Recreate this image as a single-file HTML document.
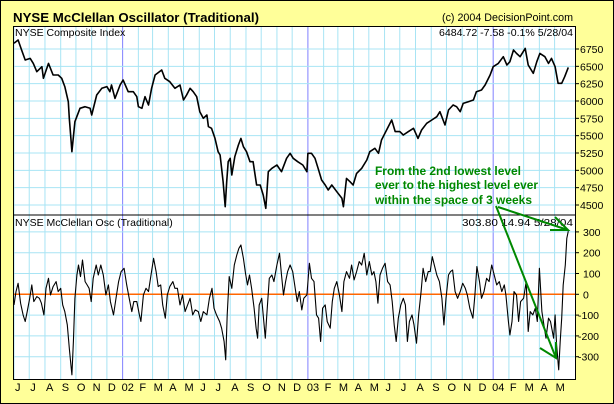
<!DOCTYPE html>
<html><head><meta charset="utf-8"><style>
html,body{margin:0;padding:0;background:#FFFF99;}
svg{display:block;font-family:"Liberation Sans",Arial,sans-serif;}
</style></head><body>
<svg id="chart" width="614" height="404" viewBox="0 0 614 404">
<rect x="0.5" y="0.5" width="613" height="403" fill="#FFFF99" stroke="#000"/>
<text x="13" y="22" font-size="13" font-weight="bold" textLength="246" lengthAdjust="spacingAndGlyphs">NYSE McClellan Oscillator (Traditional)</text>
<text x="573" y="21" font-size="11" text-anchor="end" textLength="131" lengthAdjust="spacingAndGlyphs">(c) 2004 DecisionPoint.com</text>
<rect x="13.5" y="26.5" width="562" height="353" fill="#fff" stroke="none"/>
<g id="grid"></g>
<g id="series"></g>
<rect x="13.5" y="26.5" width="562" height="353" fill="none" stroke="#000"/>
<line x1="13.5" x2="575.5" y1="215" y2="215" stroke="#000"/>
<text x="15" y="36" font-size="10.5">NYSE Composite Index</text>
<text x="573" y="36" font-size="10.5" text-anchor="end" textLength="134" lengthAdjust="spacingAndGlyphs">6484.72  -7.58  -0.1%  5/28/04</text>
<text x="15" y="226" font-size="10.5">NYSE McClellan Osc (Traditional)</text>
<text x="573" y="226" font-size="10.5" text-anchor="end" textLength="111" lengthAdjust="spacingAndGlyphs">303.80  14.94  5/28/04</text>
<g id="axes"></g>
<g id="annot">
<text x="375" y="175" font-size="12" font-weight="bold" fill="#008800" textLength="146" lengthAdjust="spacingAndGlyphs">From the 2nd lowest level</text>
<text x="375" y="189" font-size="12" font-weight="bold" fill="#008800" textLength="163" lengthAdjust="spacingAndGlyphs">ever to the highest level ever</text>
<text x="375" y="204" font-size="12" font-weight="bold" fill="#008800" textLength="157" lengthAdjust="spacingAndGlyphs">within the space of 3 weeks</text>
<g stroke="#008800" stroke-width="2" fill="none">
<polyline points="496,206 556,358"/>
<polyline points="540,348 556,358 556,342"/>
<polyline points="498,207 568,230"/>
<polyline points="550,230 568,230 555,217"/>
</g>
</g>
</svg>
<script>
// NYSE Composite: days since 2001-06-01, values
const nyaDays=[0,8,15,22,32,38,45,55,58,68,77,87,94,100,107,109,112,114,120,130,140,150,153,163,173,183,189,192,199,209,215,225,235,242,245,252,258,265,271,278,291,297,307,317,327,334,340,347,353,360,366,373,380,383,389,396,402,406,409,412,416,419,422,426,429,435,442,447,452,458,465,471,478,485,491,496,501,508,518,527,537,544,550,559,569,577,579,586,593,599,606,613,619,626,636,646,649,655,662,668,675,685,695,701,711,718,724,734,744,751,760,767,777,787,796,803,813,823,833,839,849,856,865,872,879,885,895,905,911,921,928,938,944,954,964,971,977,984,990,997,1007,1013,1023,1030,1036,1046,1053,1059,1066,1072,1079,1085,1092];
const nyaValues=[6832,6880,6735,6591,6615,6543,6423,6495,6327,6543,6375,6375,6327,6207,5990,5750,5461,5269,5702,5894,5918,5894,5798,6086,6183,6207,6134,6231,6038,6231,6303,6134,6134,6062,5918,5894,6062,5942,6183,6375,6447,6327,6279,6183,6231,6014,6086,6183,6134,6062,5846,5750,5798,5630,5606,5461,5269,5221,5029,4836,4476,4836,5125,5173,4932,5197,5365,5461,5341,5269,5125,5125,4788,4788,4644,4452,4980,5029,5077,4980,5173,5245,5173,5125,5077,4980,5245,5245,5173,5029,4860,4788,4716,4788,4692,4596,4476,4884,4836,4788,4956,5029,5149,5269,5317,5245,5437,5581,5726,5558,5558,5510,5558,5606,5461,5581,5678,5726,5774,5846,5654,5870,5942,5918,5846,5966,5990,6014,6134,6159,6231,6375,6495,6543,6639,6519,6567,6735,6687,6639,6759,6519,6399,6567,6687,6639,6543,6615,6495,6255,6255,6351,6485];
// McClellan Oscillator
const oscDays=[0,4,8,13,18,22,26,31,35,39,45,50,54,59,63,68,72,77,83,87,92,96,100,105,109,112,114,117,120,124,127,131,135,140,144,148,152,156,162,166,171,176,181,186,190,196,201,206,211,217,222,227,232,236,242,247,250,255,260,265,269,275,280,284,289,293,298,302,307,313,317,322,327,332,337,342,347,352,357,363,368,373,380,385,390,394,399,405,409,414,417,420,424,429,434,439,443,447,452,456,460,464,468,473,477,480,483,488,491,495,498,503,508,512,518,523,527,531,535,539,544,549,554,558,562,567,571,577,582,586,591,596,600,604,608,613,617,623,627,631,636,641,646,650,655,661,665,670,675,680,685,690,695,700,705,709,713,717,721,726,731,736,741,745,749,753,757,762,767,771,775,779,784,788,793,797,802,806,811,816,820,824,828,833,838,843,847,851,856,860,864,869,874,879,884,889,893,898,904,908,912,917,921,926,931,936,941,946,951,956,961,966,969,974,977,981,985,990,994,998,1004,1009,1013,1017,1022,1027,1031,1035,1040,1044,1048,1053,1057,1063,1066,1069,1073,1076,1079,1082,1086,1089,1092];
const oscValues=[-51,13,53,-43,-99,-131,-83,-19,45,-35,-11,-19,-43,-99,29,77,-3,37,61,13,29,-51,-83,-147,-259,-339,-387,-227,-19,93,141,85,165,61,45,29,-35,77,141,93,141,93,-3,45,-35,-99,-19,61,109,125,45,-19,-83,-35,-35,-99,-131,-3,29,13,77,173,109,37,45,-51,-115,-3,37,61,29,29,-51,-3,-83,-51,-19,-99,-75,-83,-131,-83,-99,-19,29,-67,-99,-131,-163,-227,-315,-99,85,29,141,189,221,237,173,101,45,93,29,-67,-163,-211,-51,-19,-99,-211,-99,77,93,61,141,197,93,-3,61,109,141,109,29,-35,13,-75,-19,-3,149,77,61,-99,-115,-227,-67,-51,-131,-163,-35,29,61,-3,-83,61,109,77,141,69,109,157,141,197,93,157,93,109,61,-43,93,125,149,61,45,-35,-147,-227,-115,-51,-19,-51,-227,-131,-99,-147,-235,-99,13,125,61,109,109,181,141,93,61,-19,-147,-19,93,109,117,13,-19,13,53,29,-3,-67,-115,-3,133,61,-19,13,77,61,141,93,45,61,13,45,-3,-131,-195,-131,13,-3,-131,-35,-19,61,-179,-83,-99,-67,-131,125,-83,-147,-211,-115,-131,-211,-99,-243,-363,-227,-115,45,141,269,304];
const topTicks=[6750,6500,6250,6000,5750,5500,5250,5000,4750,4500];
const oscTicks=[300,200,100,0,-100,-200,-300];
const monthLabels=["J","J","A","S","O","N","D","02","F","M","A","M","J","J","A","S","O","N","D","03","F","M","A","M","J","J","A","S","O","N","D","04","F","M","A","M"];

const NS="http://www.w3.org/2000/svg";
const L=13.5,R=575.5;
function xOf(d){return 14+d*0.5076;}
function yTop(v){return 49+(6750-v)*0.06933;}
function yOsc(v){return 294.3-v*0.208;}
function mk(tag,attrs,parent){const e=document.createElementNS(NS,tag);for(const k in attrs)e.setAttribute(k,attrs[k]);parent.appendChild(e);return e;}
const grid=document.getElementById('grid'),series=document.getElementById('series'),axes=document.getElementById('axes');
// month grid
const base=new Date(2001,5,1);
for(let k=0;k<monthLabels.length;k++){
  const d=Math.round((new Date(2001,5+k,1)-base)/864e5);
  const x=xOf(d);
  const isYear=monthLabels[k].length>1;
  const ln=mk('line',{x1:x,x2:x,y1:26.5,y2:379.5,stroke:isYear?'#8080FF':'#A8E4F4','stroke-width':1},grid);
  
  
  const t=mk('text',{x:x+(isYear?-1:1),y:391,'font-size':11},axes);
  t.textContent=monthLabels[k];
  
  
}
topTicks.forEach(v=>{
  const y=yTop(v);
  const g=mk('line',{x1:L,x2:R,y1:y,y2:y,stroke:'#A8E4F4'},grid);
  
  
  mk('line',{x1:R,x2:579,y1:y,y2:y,stroke:'#000'},axes);
  const t=mk('text',{x:580,y:y+4,'font-size':10.5},axes);
  t.textContent=v;
  
  
});
oscTicks.forEach(v=>{
  const y=yOsc(v);
  if(v!==0){const g=mk('line',{x1:L,x2:R,y1:y,y2:y,stroke:'#A8E4F4'},grid);
  
  }
  mk('line',{x1:R,x2:579,y1:y,y2:y,stroke:'#000'},axes);
  const t=mk('text',{x:v<0?578:583,y:y+4,'font-size':10.5},axes);
  t.textContent=v;
  
  
});
const z=mk('line',{x1:L,x2:R,y1:yOsc(0),y2:yOsc(0),stroke:'#FF6600','stroke-width':1.5},series);


const p1=mk('polyline',{points:nyaDays.map((d,i)=>xOf(d).toFixed(1)+','+yTop(nyaValues[i]).toFixed(1)).join(' '),fill:'none',stroke:'#000','stroke-width':1.6,'stroke-linejoin':'round'},series);


const p2=mk('polyline',{points:oscDays.map((d,i)=>xOf(d).toFixed(1)+','+yOsc(oscValues[i]).toFixed(1)).join(' '),fill:'none',stroke:'#000','stroke-width':1.1,'stroke-linejoin':'round'},series);


</script>
</body></html>
